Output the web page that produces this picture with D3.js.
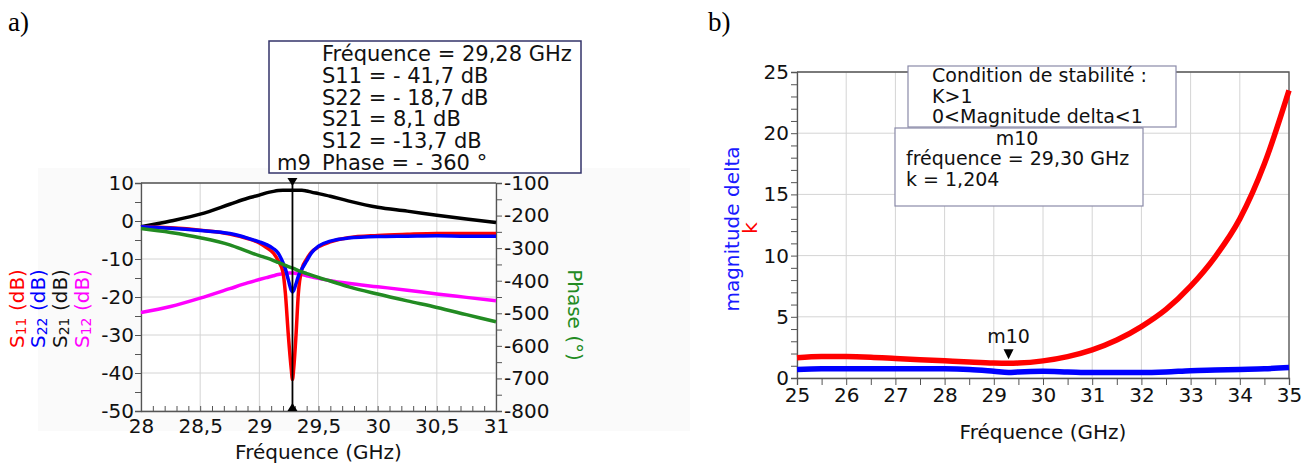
<!DOCTYPE html>
<html><head><meta charset="utf-8">
<script src="https://cdn.jsdelivr.net/npm/d3@7"></script>
<style>body{margin:0;background:#fff}svg{display:block}svg text{font-family:"DejaVu Sans",sans-serif}svg text.serif{font-family:"Liberation Serif","Times New Roman",serif}</style>
</head><body>
<svg id="c" width="1309" height="469"></svg>
<script>
// ---------- data: chart a) ----------
const freqA = [28, 28.25, 28.5, 28.75, 28.9, 29, 29.06, 29.12, 29.16, 29.2, 29.22, 29.245, 29.27, 29.28, 29.29, 29.31, 29.33, 29.36, 29.4, 29.44, 29.5, 29.6, 29.75, 30, 30.25, 30.5, 30.75, 31];
const s11 = [-1.5, -1.8, -2.4, -3.4, -4.6, -5.8, -7, -8.5, -10.5, -13.5, -19, -30, -39, -41.7, -39, -30, -19, -12.6, -10, -8.2, -6.8, -5.5, -4.4, -3.8, -3.5, -3.3, -3.3, -3.3];
const s22 = [-1.5, -1.9, -2.5, -3.3, -4.5, -5.5, -6.2, -7.3, -8.5, -11, -12.6, -15.5, -18.2, -18.7, -18.3, -16.5, -14.5, -12.6, -10.5, -8.4, -6.6, -5.3, -4.5, -4.1, -4, -3.9, -4, -4];
const s21 = [-1.5, 0, 1.8, 4.4, 6, 6.8, 7.4, 7.8, 8, 8.1, 8.1, 8.1, 8.1, 8.1, 8.1, 8.1, 8.1, 8.1, 7.9, 7.6, 7.2, 6.5, 5.3, 3.6, 2.6, 1.5, 0.5, -0.4];
const s12 = [-24.1, -22.5, -20.3, -17.8, -16.3, -15.4, -14.9, -14.4, -14.1, -13.9, -13.8, -13.7, -13.7, -13.7, -13.7, -13.8, -13.9, -14.1, -14.4, -14.7, -15.1, -15.7, -16.4, -17.3, -18.2, -19.2, -20.1, -21];
const phase = [-240, -252, -268, -290, -310, -323, -330, -338, -344, -350, -353, -357, -360, -361, -362, -366, -369, -373, -378, -383, -390, -401, -418, -441, -462, -482, -504, -526];
const xTicksA = [28, 28.5, 29, 29.5, 30, 30.5, 31];
const xTickLabelsA = ["28", "28,5", "29", "29,5", "30", "30,5", "31"];
const yTicksA = [10, 0, -10, -20, -30, -40, -50];
const yTicksPhase = [-100, -200, -300, -400, -500, -600, -700, -800];
const markerA = {freq: 29.28, name: "m9"};
const markerAText = ["Fréquence = 29,28 GHz", "S11 = - 41,7 dB", "S22 = - 18,7 dB", "S21 = 8,1 dB", "S12 = -13,7 dB", "Phase = - 360 °"];

// ---------- data: chart b) ----------
const freqB = [25, 25.5, 26, 26.5, 27, 27.5, 28, 28.5, 29, 29.3, 29.5, 30, 30.5, 31, 31.5, 32, 32.5, 33, 33.5, 34, 34.5, 35];
const kVals = [1.65, 1.75, 1.75, 1.7, 1.6, 1.5, 1.4, 1.3, 1.22, 1.204, 1.22, 1.4, 1.75, 2.3, 3.1, 4.2, 5.6, 7.5, 9.9, 13.0, 17.5, 23.5];
const deltaVals = [0.7, 0.75, 0.75, 0.75, 0.75, 0.75, 0.75, 0.7, 0.55, 0.45, 0.5, 0.55, 0.5, 0.45, 0.45, 0.45, 0.5, 0.6, 0.65, 0.7, 0.75, 0.85];
const xTicksB = [25, 26, 27, 28, 29, 30, 31, 32, 33, 34, 35];
const yTicksB = [0, 5, 10, 15, 20, 25];
const markerB = {freq: 29.3, k: 1.204, name: "m10"};
const condText = ["Condition de stabilité :", "K>1", "0<Magnitude delta<1"];
const markerBText = ["fréquence = 29,30 GHz", "k = 1,204"];

const svg = d3.select("#c");
const AX = "#555", GRID = "#d4d4d4";

// ================= chart a) =================
svg.append("rect").attr("x", 38).attr("y", 168).attr("width", 652).attr("height", 263).attr("fill", "#fafafa");
const xA = d3.scaleLinear().domain([28, 31]).range([141, 496]);
const yA = d3.scaleLinear().domain([-50, 10]).range([411, 183]);
const yP = d3.scaleLinear().domain([-800, -100]).range([411, 183]);
const gA = svg.append("g");
gA.append("rect").attr("x", xA(28)).attr("y", yA(10)).attr("width", xA(31) - xA(28)).attr("height", yA(-50) - yA(10)).attr("fill", "#fff");
gA.append("g").selectAll("line").data(xTicksA).join("line")
  .attr("x1", d => xA(d)).attr("x2", d => xA(d)).attr("y1", yA(10)).attr("y2", yA(-50)).attr("stroke", GRID);
gA.append("g").selectAll("line").data(yTicksA).join("line")
  .attr("x1", xA(28)).attr("x2", xA(31)).attr("y1", d => yA(d)).attr("y2", d => yA(d)).attr("stroke", GRID);
const axLA = gA.append("g").attr("transform", `translate(${xA(28)},0)`)
  .call(d3.axisLeft(yA).tickValues(d3.range(-50, 10.1, 5)).tickSize(6).tickFormat(d => yTicksA.includes(d) ? d : ""));
const axRA = gA.append("g").attr("transform", `translate(${xA(31)},0)`)
  .call(d3.axisRight(yP).tickValues(d3.range(-800, -99, 50)).tickSize(6).tickFormat(d => yTicksPhase.includes(d) ? d : ""));
const axBA = gA.append("g").attr("transform", `translate(0,${yA(-50)})`)
  .call(d3.axisBottom(xA).tickValues(d3.range(28, 31.001, 0.1)).tickSize(0).tickFormat(d => {
    const i = xTicksA.findIndex(t => Math.abs(t - d) < 1e-6); return i >= 0 ? xTickLabelsA[i] : ""; }));
axBA.selectAll(".tick line").attr("y2", -5);
[axLA, axRA, axBA].forEach(a => {
  a.select(".domain").attr("stroke", AX).attr("stroke-width", 1.3);
  a.selectAll(".tick line").attr("stroke", AX);
  a.selectAll("text").attr("font-size", 20).attr("fill", "#111").attr("font-family", "DejaVu Sans");
});
axLA.selectAll("text").attr("x", -7);
axRA.selectAll("text").attr("x", 8);
axBA.selectAll("text").attr("y", 8);
gA.append("line").attr("x1", xA(28)).attr("x2", xA(31)).attr("y1", yA(10)).attr("y2", yA(10)).attr("stroke", AX).attr("stroke-width", 1.3);

const lineA = vals => d3.line().x((d, i) => xA(freqA[i])).y(d => yA(d)).curve(d3.curveMonotoneX)(vals);
const lineP = d3.line().x((d, i) => xA(freqA[i])).y(d => yP(d)).curve(d3.curveMonotoneX);
gA.append("path").attr("d", lineA(s21)).attr("fill", "none").attr("stroke", "#000").attr("stroke-width", 3.5);
gA.append("path").attr("d", lineA(s12)).attr("fill", "none").attr("stroke", "#ff00ff").attr("stroke-width", 3.5);
gA.append("path").attr("d", lineA(s11)).attr("fill", "none").attr("stroke", "#ff0000").attr("stroke-width", 3.5);
gA.append("path").attr("d", lineA(s22)).attr("fill", "none").attr("stroke", "#0000ff").attr("stroke-width", 3.5);
gA.append("path").attr("d", lineP(phase)).attr("fill", "none").attr("stroke", "#228b22").attr("stroke-width", 3.5);

const mx = xA(markerA.freq);
gA.append("line").attr("x1", mx).attr("x2", mx).attr("y1", yA(10)).attr("y2", yA(-50)).attr("stroke", "#000").attr("stroke-width", 1.8);
gA.append("path").attr("d", `M${mx - 5},${yA(10) - 5}L${mx + 5},${yA(10) - 5}L${mx},${yA(10) + 3}Z`).attr("fill", "#000");
gA.append("path").attr("d", `M${mx - 5},${yA(-50)}L${mx + 5},${yA(-50)}L${mx},${yA(-50) - 8}Z`).attr("fill", "#000");
svg.append("rect").attr("x", 269).attr("y", 41).attr("width", 312).attr("height", 132).attr("fill", "#fff").attr("stroke", "#33336a").attr("stroke-width", 1.5);
svg.append("g").selectAll("text").data(markerAText).join("text")
  .attr("x", 322).attr("y", (d, i) => 61 + i * 21.8).attr("font-size", 21).attr("fill", "#111").text(d => d);
svg.append("text").attr("x", 277).attr("y", 170).attr("font-size", 21).attr("fill", "#111").text(markerA.name);

svg.append("text").attr("x", xA(29.5)).attr("y", 459).attr("text-anchor", "middle").attr("font-size", 20).attr("fill", "#111").text("Fréquence (GHz)");
const sLabels = [{n: "11", c: "#ff0000", x: 17}, {n: "22", c: "#0000ff", x: 38}, {n: "21", c: "#111", x: 60}, {n: "12", c: "#ff00ff", x: 82}];
sLabels.forEach(s => {
  const t = svg.append("text").attr("transform", `translate(${s.x + 7},348) rotate(-90)`).attr("fill", s.c).attr("font-size", 20);
  t.append("tspan").text("S");
  t.append("tspan").attr("font-size", 14).attr("dy", 2).text(s.n);
  t.append("tspan").attr("dy", -2).text(" (dB)");
});
svg.append("text").attr("transform", `translate(568,315) rotate(90)`).attr("text-anchor", "middle").attr("fill", "#228b22").attr("font-size", 20).text("Phase (°)");
svg.append("text").attr("class", "serif").attr("x", 8).attr("y", 31).attr("font-size", 27).attr("fill", "#000").text("a)");

// ================= chart b) =================
const xB = d3.scaleLinear().domain([25, 35]).range([797, 1289]);
const yB = d3.scaleLinear().domain([0, 25]).range([378, 72]);
const gB = svg.append("g");
gB.append("g").selectAll("line").data(xTicksB).join("line")
  .attr("x1", d => xB(d)).attr("x2", d => xB(d)).attr("y1", yB(25)).attr("y2", yB(0)).attr("stroke", GRID);
gB.append("g").selectAll("line").data(yTicksB).join("line")
  .attr("x1", xB(25)).attr("x2", xB(35)).attr("y1", d => yB(d)).attr("y2", d => yB(d)).attr("stroke", GRID);
const axLB = gB.append("g").attr("transform", `translate(${xB(25)},0)`)
  .call(d3.axisLeft(yB).tickValues(d3.range(0, 25.1, 1)).tickSize(6).tickFormat(d => yTicksB.includes(d) ? d : ""));
const axBB = gB.append("g").attr("transform", `translate(0,${yB(0)})`)
  .call(d3.axisBottom(xB).tickValues(d3.range(25, 35.01, 0.5)).tickSize(7).tickFormat(d => xTicksB.includes(d) ? d : ""));
[axLB, axBB].forEach(a => {
  a.select(".domain").attr("stroke", AX).attr("stroke-width", 1.3);
  a.selectAll(".tick line").attr("stroke", AX);
  a.selectAll("text").attr("font-size", 20).attr("fill", "#111").attr("font-family", "DejaVu Sans");
});
axLB.selectAll("text").attr("x", -8);
axBB.selectAll("text").attr("y", 10);
gB.append("path").attr("d", `M${xB(25)},${yB(25)}H${xB(35)}V${yB(0)}`).attr("fill", "none").attr("stroke", AX).attr("stroke-width", 1.3);

const lineB = d3.line().x((d, i) => xB(freqB[i])).y(d => yB(d)).curve(d3.curveMonotoneX);
gB.append("path").attr("d", lineB(deltaVals)).attr("fill", "none").attr("stroke", "#0000ff").attr("stroke-width", 5.5);
gB.append("path").attr("d", lineB(kVals)).attr("fill", "none").attr("stroke", "#ff0000").attr("stroke-width", 5.5);

const mbx = xB(markerB.freq), mby = yB(markerB.k);
gB.append("path").attr("d", `M${mbx - 5},${mby - 14}L${mbx + 5},${mby - 14}L${mbx},${mby - 4}Z`).attr("fill", "#000");
gB.append("text").attr("x", mbx).attr("y", mby - 20).attr("text-anchor", "middle").attr("font-size", 19).attr("fill", "#111").text(markerB.name);

svg.append("rect").attr("x", 908).attr("y", 66).attr("width", 268).attr("height", 61).attr("fill", "#fff").attr("stroke", "#8a8aa8").attr("stroke-width", 1.2);
svg.append("g").selectAll("text").data(condText).join("text")
  .attr("x", 932).attr("y", (d, i) => 82 + i * 20.5).attr("font-size", 19).attr("fill", "#111").text(d => d);
svg.append("rect").attr("x", 895).attr("y", 128).attr("width", 248).attr("height", 78).attr("fill", "#fff").attr("stroke", "#8a8aa8").attr("stroke-width", 1.2);
svg.append("text").attr("x", 1017).attr("y", 145).attr("text-anchor", "middle").attr("font-size", 19).attr("fill", "#111").text(markerB.name);
svg.append("g").selectAll("text").data(markerBText).join("text")
  .attr("x", 906).attr("y", (d, i) => 165 + i * 20.5).attr("font-size", 19).attr("fill", "#111").text(d => d);

svg.append("text").attr("x", xB(30)).attr("y", 439).attr("text-anchor", "middle").attr("font-size", 20).attr("fill", "#111").text("Fréquence (GHz)");
svg.append("text").attr("transform", `translate(739,229) rotate(-90)`).attr("text-anchor", "middle").attr("font-size", 20).attr("fill", "#1a1aff").text("magnitude delta");
svg.append("text").attr("transform", `translate(757,228) rotate(-90)`).attr("text-anchor", "middle").attr("font-size", 20).attr("fill", "#ff0000").text("k");
svg.append("text").attr("class", "serif").attr("x", 708).attr("y", 31).attr("font-size", 27).attr("fill", "#000").text("b)");
</script>
</body></html>
